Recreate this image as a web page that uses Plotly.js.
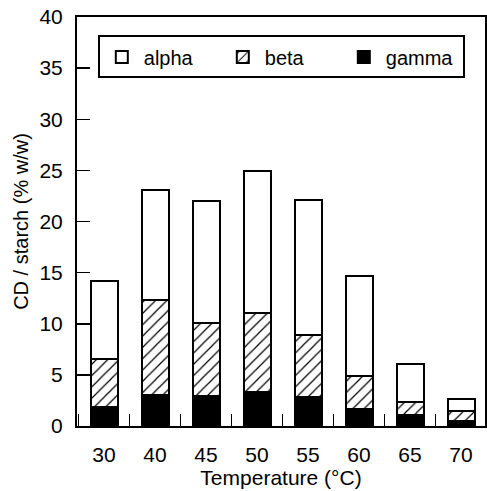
<!DOCTYPE html>
<html>
<head>
<meta charset="utf-8">
<script src="https://cdn.plot.ly/plotly-3.0.1.min.js"></script>
<style>html,body{margin:0;padding:0;background:#fff;}#chart{width:487px;height:491px;}</style>
</head>
<body>
<div id="chart"></div>
<script>
const categories = ["30", "40", "45", "50", "55", "60", "65", "70"];
const gamma = [1.9, 3.0, 2.9, 3.3, 2.8, 1.7, 1.1, 0.5];
const beta  = [4.7, 9.3, 7.2, 7.8, 6.1, 3.2, 1.2, 1.0];
const alpha = [7.6, 10.8, 11.9, 13.8, 13.2, 9.8, 3.8, 1.1];

const line = {color: "#000", width: 2};
const traces = [
  {type: "bar", name: "gamma", x: categories, y: gamma, width: 0.53,
   marker: {color: "#000", line: line}},
  {type: "bar", name: "beta", x: categories, y: beta, width: 0.53,
   marker: {color: "#fff", line: line,
            pattern: {shape: "/", fgcolor: "#000", bgcolor: "#fff", size: 8, solidity: 0.15}}},
  {type: "bar", name: "alpha", x: categories, y: alpha, width: 0.53,
   marker: {color: "#fff", line: line}}
];

const fam = "Liberation Sans, Arial, sans-serif";
const layout = {
  width: 487, height: 491,
  margin: {l: 77, r: 2, t: 17, b: 65},
  barmode: "stack",
  paper_bgcolor: "#fff", plot_bgcolor: "#fff",
  font: {family: fam, color: "#000", size: 20},
  showlegend: true,
  legend: {
    x: 0.051, y: 0.955, xanchor: "left", yanchor: "top",
    orientation: "h", traceorder: "reversed",
    bordercolor: "#000", borderwidth: 2, bgcolor: "#fff",
    font: {family: fam, size: 20, color: "#000"},
    entrywidth: 72, itemwidth: 34
  },
  xaxis: {
    type: "category", range: [-0.53, 7.47],
    showline: true, linecolor: "#000", linewidth: 2, mirror: true,
    ticks: "inside", tickson: "boundaries", ticklen: 12, tickwidth: 1.5, tickcolor: "#000",
    showgrid: false, zeroline: false,
    tickfont: {family: fam, size: 21},
    ticklabelstandoff: 9,
    title: {text: "Temperature (°C)", font: {family: fam, size: 21}, standoff: 4}
  },
  yaxis: {
    range: [0, 40], dtick: 5,
    showline: true, linecolor: "#000", linewidth: 2, mirror: true,
    ticks: "inside", ticklen: 13, tickwidth: 1.5, tickcolor: "#000",
    showgrid: false, zeroline: false,
    tickfont: {family: fam, size: 21},
    ticklabelstandoff: 8,
    title: {text: "CD / starch (% w/w)", font: {family: fam, size: 20}, standoff: 5}
  }
};
Plotly.newPlot("chart", traces, layout, {displayModeBar: false, staticPlot: true});
</script>
</body>
</html>
